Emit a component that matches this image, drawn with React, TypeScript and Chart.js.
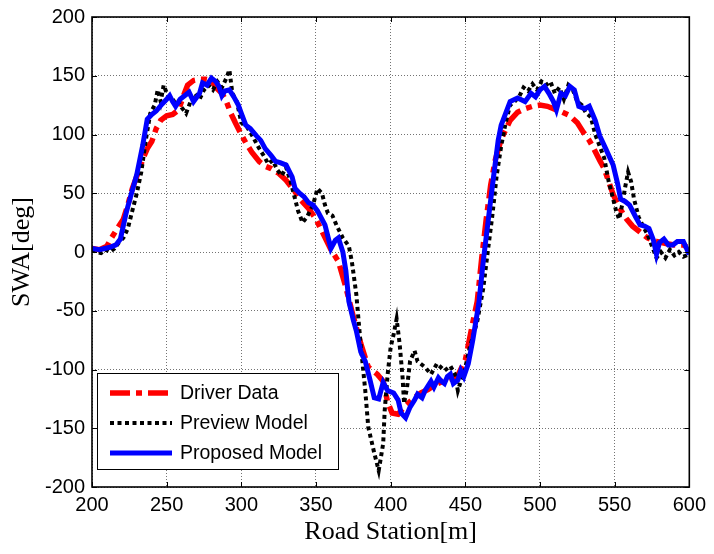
import React, { useEffect, useRef } from "react";
import { Chart, registerables } from "chart.js";

Chart.register(...registerables);

// ---------- data ----------
const xTicks = [200, 250, 300, 350, 400, 450, 500, 550, 600];
const yTicks = [-200, -150, -100, -50, 0, 50, 100, 150, 200];

const seriesNames = ["Driver Data", "Preview Model", "Proposed Model"];

const driverX = [200,205,210,213,217,221,224,227,231,234,237,240,243,246,250,254,258,261,264,268,272,276,280,283,287,290,293,296,300,303,307,312,316,320,325,330,335,340,345,350,355,360,365,370,375,380,385,391,395,398,401,405,409,415,420,425,430,435,440,445,450,455,458,461,464,467,470,474,480,485,490,495,500,505,511,515,520,525,529,533,536,540,543,546,549,553,558,562,567,572,578,585,590,596,600];
const driverY = [3,2,5,12,20,28,40,54,68,79,88,94,105,112,116,117,121,132,142,146,147,147,146,140,135,128,118,110,100,93,85,77,73,71,67,61,53,44,37,28,15,2,-8,-30,-55,-78,-98,-104,-110,-128,-137,-138,-132,-125,-120,-117,-113,-110,-108,-105,-92,-60,-42,-5,28,57,78,96,112,119,122,124,125,124,121,119,116,110,102,95,88,78,71,60,49,38,28,22,17,12,9,7,6,6,3];

const previewX = [200,203,206,209,212,215,218,221,224,227,230,233,236,239,242,244,246,248,251,254,257,260,263,266,269,272,275,278,281,284,287,290,292,294,297,300,303,306,309,312,315,318,321,324,327,330,333,336,338,341,344,348,351,354,356,358,361,364,368,372,374,377,380,383,385,389,392,395,396,398,400,402,404,406,408,409,411,413,416,418,423,427,431,436,440,443,445,447,449,453,458,462,465,468,471,474,477,480,483,486,489,492,495,498,501,504,507,510,513,516,519,522,525,528,531,534,537,540,543,546,549,551,553,555,557,559,561,563,566,569,572,575,578,581,584,587,590,593,596,600];
const previewY = [2,0,-1,2,0,3,8,12,20,35,50,68,95,118,125,138,128,142,132,128,130,123,118,128,135,130,138,142,138,145,140,148,155,135,128,110,108,102,95,88,82,75,78,70,65,72,60,45,35,25,30,40,54,50,40,33,31,22,12,5,-8,-36,-80,-118,-149,-171,-186,-163,-135,-104,-81,-70,-57,-78,-107,-129,-115,-93,-84,-93,-98,-104,-95,-101,-97,-104,-118,-110,-104,-81,-59,-31,0,30,65,90,110,125,128,132,140,137,143,138,145,142,145,135,140,130,142,138,128,125,118,115,100,90,80,60,45,35,28,40,55,68,60,45,30,22,15,5,-5,0,-5,2,-3,0,-4,-2];

const proposedX = [200,205,212,216,219,223,226,230,234,237,240,243,247,250,252,254,256,259,262,265,268,272,274,277,280,283,285,287,289,292,295,298,300,303,306,310,313,316,320,323,326,330,334,336,339,342,345,348,351,356,360,363,365,368,370,372,375,377,380,383,386,389,392,395,398,402,405,407,410,413,416,418,421,423,427,429,432,434,436,438,440,442,445,447,449,452,455,459,462,466,469,472,474,477,480,485,490,494,497,500,503,506,509,511,514,517,520,523,526,530,533,537,540,544,549,552,554,557,560,564,567,570,573,576,578,580,583,586,589,592,596,600];
const proposedY = [3,2,4,6,11,34,48,66,91,113,117,120,126,130,133,128,124,130,133,136,128,135,144,142,148,145,141,133,137,138,132,125,118,108,105,99,95,88,82,77,76,74,64,54,50,47,42,40,35,23,3,10,12,0,-16,-42,-58,-67,-85,-93,-108,-124,-125,-111,-118,-120,-126,-137,-141,-132,-126,-121,-124,-118,-110,-115,-107,-110,-112,-106,-104,-112,-109,-101,-106,-95,-75,-44,-8,34,65,95,108,118,128,131,128,135,132,138,141,135,128,121,135,133,141,138,124,122,124,112,99,88,74,58,45,43,40,30,23,22,20,10,-2,8,11,6,6,9,9,-2];

const toPoints = (xs: number[], ys: number[]) => xs.map((x, i) => ({ x, y: ys[i] }));

const TICK_FONT = "'Liberation Sans', Arial, sans-serif";
const TITLE_FONT = "'Liberation Serif', 'Times New Roman', serif";

if (typeof document !== "undefined") {
  document.body.style.margin = "0";
}

const framePlugin = {
  id: "framePlugin",
  afterDraw(chart: any) {
    const { ctx, chartArea } = chart;
    const { left, right, top, bottom } = chartArea;
    const xs = chart.scales.x;
    const ys = chart.scales.y;
    ctx.save();
    ctx.strokeStyle = "#000";
    ctx.lineWidth = 1;
    const tl = 5;
    xs.ticks.forEach((t: any) => {
      const px = Math.round(xs.getPixelForValue(t.value)) + 0.5;
      ctx.beginPath();
      ctx.moveTo(px, bottom);
      ctx.lineTo(px, bottom - tl);
      ctx.moveTo(px, top);
      ctx.lineTo(px, top + tl);
      ctx.stroke();
    });
    ys.ticks.forEach((t: any) => {
      const py = Math.round(ys.getPixelForValue(t.value)) + 0.5;
      ctx.beginPath();
      ctx.moveTo(left, py);
      ctx.lineTo(left + tl, py);
      ctx.moveTo(right, py);
      ctx.lineTo(right - tl, py);
      ctx.stroke();
    });
    ctx.lineWidth = 1.6;
    ctx.strokeRect(left, top, right - left, bottom - top);

    // legend
    const lx = 97, ly = 373, lw = 241, lh = 96;
    ctx.fillStyle = "#fff";
    ctx.fillRect(lx, ly, lw, lh);
    ctx.lineWidth = 1;
    ctx.strokeStyle = "#000";
    ctx.strokeRect(lx + 0.5, ly + 0.5, lw, lh);
    const rows = [393, 423, 453];
    chart.data.datasets.forEach((ds: any, i: number) => {
      const y = rows[i];
      ctx.save();
      ctx.strokeStyle = ds.borderColor;
      ctx.lineWidth = ds.borderWidth;
      ctx.setLineDash(ds.borderDash || []);
      ctx.lineCap = "butt";
      ctx.beginPath();
      ctx.moveTo(110, y);
      ctx.lineTo(172, y);
      ctx.stroke();
      ctx.restore();
      ctx.fillStyle = "#000";
      ctx.font = `19.5px ${TICK_FONT}`;
      ctx.textAlign = "left";
      ctx.textBaseline = "middle";
      ctx.fillText(ds.label, 180, y + 1);
    });
    ctx.restore();
  },
};

export default function App() {
  const ref = useRef<HTMLCanvasElement | null>(null);

  useEffect(() => {
    if (!ref.current) return;
    const chart = new Chart(ref.current, {
      type: "line",
      data: {
        datasets: [
          {
            label: seriesNames[0],
            data: toPoints(driverX, driverY),
            borderColor: "#ff0000",
            borderWidth: 5.5,
            borderDash: [20, 6, 6, 6],
            pointRadius: 0,
            fill: false,
            order: 3,
          },
          {
            label: seriesNames[1],
            data: toPoints(previewX, previewY),
            borderColor: "#000000",
            borderWidth: 4,
            borderDash: [4, 3.5],
            pointRadius: 0,
            fill: false,
            order: 2,
          },
          {
            label: seriesNames[2],
            data: toPoints(proposedX, proposedY),
            borderColor: "#0000ff",
            borderWidth: 5,
            pointRadius: 0,
            fill: false,
            order: 1,
          },
        ],
      },
      options: {
        responsive: false,
        animation: false,
        devicePixelRatio: 1,
        layout: { padding: { top: 14, right: 21, left: 0, bottom: 0 } },
        plugins: { legend: { display: false }, tooltip: { enabled: false } },
        scales: {
          x: {
            type: "linear",
            min: 200,
            max: 600,
            afterBuildTicks: (s: any) => {
              s.ticks = xTicks.map((v) => ({ value: v }));
            },
            afterFit: (s: any) => {
              s.height = 67;
            },
            ticks: {
              color: "#000",
              padding: 8,
              maxRotation: 0,
              font: { family: TICK_FONT, size: 20, lineHeight: 1 },
            },
            grid: { color: "rgba(0,0,0,0.55)", lineWidth: 1, drawTicks: false },
            border: { display: false, dash: [1, 2] },
            title: {
              display: true,
              text: "Road Station[m]",
              color: "#000",
              font: { family: TITLE_FONT, size: 26 },
              padding: { top: 0, bottom: 6 },
            },
          },
          y: {
            type: "linear",
            min: -200,
            max: 200,
            afterBuildTicks: (s: any) => {
              s.ticks = yTicks.map((v) => ({ value: v }));
            },
            afterFit: (s: any) => {
              s.width = 92;
            },
            ticks: {
              color: "#000",
              padding: 7,
              font: { family: TICK_FONT, size: 20, lineHeight: 1 },
            },
            grid: { color: "rgba(0,0,0,0.55)", lineWidth: 1, drawTicks: false },
            border: { display: false, dash: [1, 2] },
            title: {
              display: true,
              text: "SWA[deg]",
              color: "#000",
              font: { family: TITLE_FONT, size: 26 },
              padding: { top: 7, bottom: 0 },
            },
          },
        },
      },
      plugins: [framePlugin],
    } as any);
    return () => chart.destroy();
  }, []);

  return (
    <div style={{ width: 714, height: 554, background: "#fff" }}>
      <canvas ref={ref} width={714} height={554} style={{ display: "block" }} />
    </div>
  );
}
